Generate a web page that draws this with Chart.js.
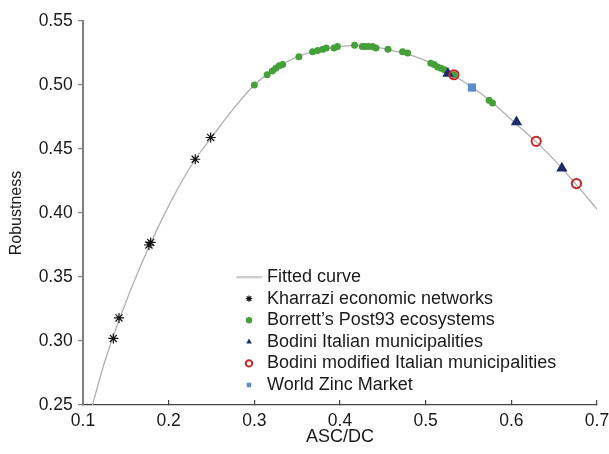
<!DOCTYPE html>
<html>
<head>
<meta charset="utf-8">
<script src="https://cdn.jsdelivr.net/npm/chart.js@4.4.1/dist/chart.umd.min.js"></script>
<style>
  body { margin: 0; background: #fff; }
  #wrap { width: 609px; height: 454px; }
</style>
</head>
<body>
<div id="wrap"><canvas id="chart" width="609" height="454"></canvas></div>
<script>
// fitted curve
const curveX = [0.111, 0.125, 0.142, 0.16, 0.178, 0.205, 0.231, 0.25, 0.275, 0.30, 0.325, 0.35, 0.375, 0.40, 0.42, 0.44, 0.46, 0.48, 0.50, 0.52, 0.54, 0.555, 0.58, 0.605, 0.63, 0.655, 0.676, 0.70];
const curveY = [0.250, 0.283, 0.316, 0.347, 0.375, 0.412, 0.442, 0.459, 0.481, 0.500, 0.513, 0.522, 0.527, 0.530, 0.531, 0.530, 0.527, 0.524, 0.519, 0.5125, 0.5045, 0.498, 0.485, 0.470, 0.455, 0.438, 0.422, 0.403];

const kharraziX = [0.1354, 0.142, 0.177, 0.179, 0.231, 0.249];
const kharraziY = [0.302, 0.318, 0.375, 0.377, 0.442, 0.459];

const borrettX = [0.300, 0.315, 0.321, 0.325, 0.329, 0.333, 0.352, 0.368, 0.374, 0.380, 0.384, 0.393, 0.397, 0.417, 0.426, 0.429, 0.433, 0.438, 0.442, 0.456, 0.473, 0.479, 0.506, 0.510, 0.514, 0.518, 0.522, 0.533, 0.574, 0.578];
const borrettY = [0.500, 0.508, 0.511, 0.513, 0.515, 0.516, 0.522, 0.526, 0.527, 0.528, 0.529, 0.529, 0.530, 0.531, 0.530, 0.530, 0.530, 0.530, 0.529, 0.528, 0.526, 0.525, 0.517, 0.516, 0.514, 0.513, 0.512, 0.508, 0.488, 0.486];

const bodiniX = [0.526, 0.606, 0.659];
const bodiniY = [0.509, 0.471, 0.435];

const bodiniModX = [0.533, 0.629, 0.676];
const bodiniModY = [0.508, 0.456, 0.423];

const zincX = [0.554];
const zincY = [0.498];

const xTicks = [0.1, 0.2, 0.3, 0.4, 0.5, 0.6, 0.7];
const yTicks = [0.25, 0.30, 0.35, 0.40, 0.45, 0.50, 0.55];

const toPoints = (xs, ys) => xs.map((x, i) => ({ x: x, y: ys[i] }));

const textColor = '#1a1a1a';
const family = '"Liberation Sans", Arial, sans-serif';

// little line icon for the fitted curve legend entry
const lineIcon = document.createElement('canvas');
lineIcon.width = 26;
lineIcon.height = 3;
const lctx = lineIcon.getContext('2d');
lctx.strokeStyle = '#b0b0b0';
lctx.lineWidth = 1.5;
lctx.beginPath();
lctx.moveTo(0, 1.5);
lctx.lineTo(26, 1.5);
lctx.stroke();

// put the legend in the lower middle of the plot
const legendSpot = {
    id: 'legendSpot',
    afterLayout(chart) {
        const lg = chart.legend;
        const pad = lg.options.labels.padding;
        lg.left = 240 - pad;
        lg.top = 268 - pad;
        lg.right = 609;
        lg.bottom = 454;
        lg.width = lg.right - lg.left;
        lg.height = lg.bottom - lg.top;
    }
};

const ctx = document.getElementById('chart').getContext('2d');
new Chart(ctx, {
    type: 'line',
    data: {
        datasets: [
            {
                label: 'Fitted curve',
                data: toPoints(curveX, curveY),
                borderColor: '#b0b0b0',
                borderWidth: 1.3,
                pointRadius: 0,
                pointStyle: lineIcon,
                cubicInterpolationMode: 'monotone',
                order: 6
            },
            {
                label: 'Kharrazi economic networks',
                data: toPoints(kharraziX, kharraziY),
                showLine: false,
                pointStyle: 'star',
                pointRadius: 5,
                borderColor: '#111',
                backgroundColor: '#111',
                pointBorderWidth: 1.2,
                order: 5
            },
            {
                label: 'Borrett\u2019s Post93 ecosystems',
                data: toPoints(borrettX, borrettY),
                showLine: false,
                pointStyle: 'circle',
                pointRadius: 3.5,
                borderWidth: 0,
                pointBorderWidth: 0,
                backgroundColor: '#45a03a',
                borderColor: '#45a03a',
                order: 4
            },
            {
                label: 'Bodini Italian municipalities',
                data: toPoints(bodiniX, bodiniY),
                showLine: false,
                pointStyle: 'triangle',
                pointRadius: 6.5,
                pointBorderWidth: 0,
                backgroundColor: '#1c2a6b',
                borderColor: '#1c2a6b',
                order: 3
            },
            {
                label: 'Bodini modified Italian municipalities',
                data: toPoints(bodiniModX, bodiniModY),
                showLine: false,
                pointStyle: 'circle',
                pointRadius: 4.6,
                pointBorderWidth: 2,
                backgroundColor: 'rgba(255,255,255,0)',
                borderColor: '#c8262a',
                order: 1
            },
            {
                label: 'World Zinc Market',
                data: toPoints(zincX, zincY),
                showLine: false,
                pointStyle: 'rect',
                pointRadius: 5.8,
                pointBorderWidth: 0,
                backgroundColor: '#5a8bcb',
                borderColor: '#5a8bcb',
                order: 2
            }
        ]
    },
    options: {
        responsive: false,
        animation: false,
        layout: { padding: { top: 21, right: 0, left: 0, bottom: 0 } },
        plugins: {
            tooltip: { enabled: false },
            title: { display: false },
            legend: {
                position: 'chartArea',
                align: 'start',
                labels: {
                    usePointStyle: true,
                    boxWidth: 22,
                    boxHeight: 4.5,
                    padding: 3.6,
                    color: textColor,
                    font: { family: family, size: 18 },
                    sort: (a, b) => a.datasetIndex - b.datasetIndex
                }
            }
        },
        scales: {
            x: {
                type: 'linear',
                min: 0.1,
                max: 0.7,
                afterBuildTicks: s => { s.ticks = xTicks.map(v => ({ value: v })); },
                afterFit: s => {
                    s.height = 49;
                    s.paddingLeft = 0;
                    s.paddingRight = 12;
                },
                border: { color: '#444', width: 1.2 },
                grid: { drawOnChartArea: false, drawTicks: true, tickLength: -5, color: '#444', lineWidth: 1.2 },
                ticks: {
                    padding: 10.5,
                    color: textColor,
                    font: { family: family, size: 17.5 },
                    maxRotation: 0,
                    autoSkip: false,
                    callback: v => v.toFixed(1)
                },
                title: {
                    display: true,
                    text: 'ASC/DC',
                    color: textColor,
                    font: { family: family, size: 18 },
                    padding: { top: 0, bottom: 6 }
                }
            },
            y: {
                type: 'linear',
                min: 0.25,
                max: 0.55,
                afterBuildTicks: s => { s.ticks = yTicks.map(v => ({ value: v })); },
                afterFit: s => { s.width = 83; },
                border: { color: '#808080', width: 2 },
                grid: { drawOnChartArea: false, drawTicks: true, tickLength: 5, color: '#808080', lineWidth: 1.2 },
                ticks: {
                    padding: 5.3,
                    color: textColor,
                    font: { family: family, size: 17.5 },
                    callback: v => v.toFixed(2)
                },
                title: {
                    display: true,
                    text: 'Robustness',
                    color: textColor,
                    font: { family: family, size: 16 },
                    padding: { top: 7, bottom: 0 }
                }
            }
        }
    },
    plugins: [legendSpot]
});
</script>
</body>
</html>
